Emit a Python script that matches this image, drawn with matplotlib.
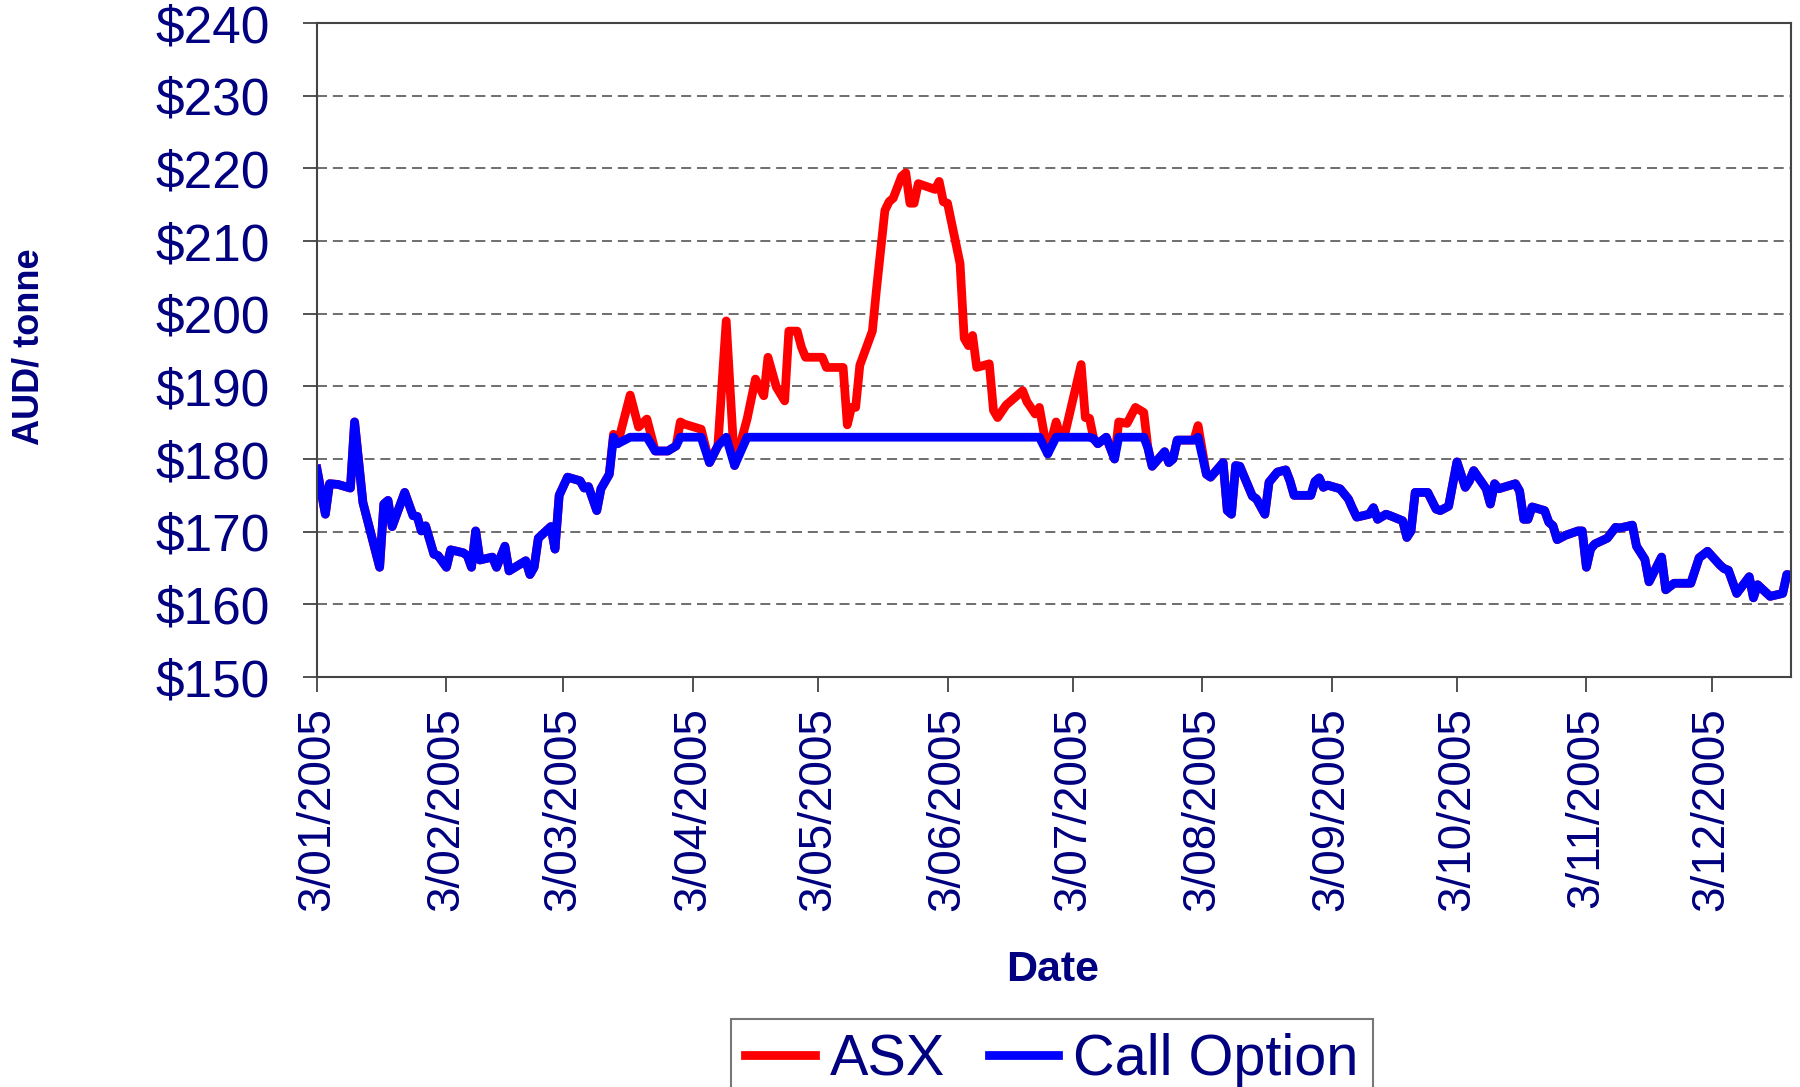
import numpy as np
import pandas as pd
import matplotlib
matplotlib.use("Agg")
import matplotlib.pyplot as plt
from matplotlib.ticker import FuncFormatter


start = pd.Timestamp("2005-01-03")
end = pd.Timestamp("2005-12-22")

# days since 3 Jan 2005
day_offset = [
    0, 2, 3, 5, 8, 9, 11, 15, 16, 17, 18, 21, 23, 24, 25, 26, 28, 29, 31, 32,
    35, 36, 37, 38, 39, 42, 43, 45, 46, 50, 51, 52, 53, 56, 57, 58, 60, 63, 64, 65,
    67, 68, 70, 71, 72, 75, 77, 79, 81, 84, 86, 87, 88, 92, 94, 96, 98, 100, 103, 105,
    107, 108, 110, 112, 113, 115, 116, 117, 121, 122, 126, 127, 128, 129, 130, 133, 134, 136, 137, 138,
    140, 141, 142, 143, 144, 148, 149, 150, 151, 154, 155, 156, 157, 158, 161, 162, 163, 165, 169, 170,
    172, 173, 175, 177, 178, 179, 183, 184, 185, 186, 187, 189, 191, 192, 194, 196, 198, 199, 200, 203,
    204, 205, 206, 210, 211, 213, 214, 217, 218, 219, 220, 221, 224, 225, 227, 228, 230, 232, 233, 234,
    238, 239, 240, 241, 242, 245, 247, 248, 249, 252, 253, 254, 256, 257, 260, 261, 262, 263, 266, 268,
    269, 271, 273, 275, 276, 277, 280, 281, 282, 283, 287, 288, 289, 290, 291, 294, 295, 296, 297, 299,
    302, 303, 304, 305, 306, 309, 311, 312, 315, 316, 318, 319, 322, 323, 325, 329, 331, 333, 336, 337,
    338, 340, 343, 344, 345, 348, 351, 352, 353,
]

# ASX price, AUD/tonne
asx = [
    178.6, 172.4, 176.6, 176.5, 176.0, 185.1, 174.0, 165.1, 173.8, 174.3, 170.7, 175.4, 172.2, 172.1, 170.1, 170.8, 166.9, 166.7, 165.1, 167.5,
    167.1, 166.7, 165.1, 170.1, 166.1, 166.5, 165.1, 168.0, 164.6, 166.0, 164.1, 165.1, 169.1, 170.7, 167.6, 175.0, 177.5, 177.0, 176.0, 176.2,
    172.9, 175.9, 177.9, 183.4, 182.1, 188.8, 184.4, 185.5, 181.1, 181.1, 181.8, 185.1, 184.8, 184.1, 179.5, 181.8, 199.0, 179.1, 185.5, 191.0,
    188.7, 194.0, 189.9, 188.0, 197.6, 197.6, 195.4, 194.0, 194.0, 192.6, 192.6, 184.7, 187.1, 187.1, 192.9, 197.6, 203.4, 214.2, 215.4, 215.9,
    218.9, 219.4, 215.2, 215.2, 217.9, 217.1, 218.2, 215.4, 215.2, 206.9, 196.6, 195.6, 197.0, 192.6, 193.1, 186.7, 185.7, 187.4, 189.4, 187.9,
    186.2, 187.1, 180.7, 185.1, 183.2, 183.2, 193.0, 185.7, 185.6, 182.8, 182.1, 183.0, 180.0, 185.1, 184.9, 187.1, 186.4, 181.5, 179.0, 181.0,
    179.5, 180.0, 182.6, 182.6, 184.6, 177.9, 177.5, 179.5, 172.9, 172.4, 179.1, 179.0, 174.9, 174.5, 172.4, 176.8, 178.2, 178.5, 177.0, 175.0,
    175.0, 176.9, 177.4, 176.1, 176.4, 175.9, 174.5, 173.2, 172.0, 172.4, 173.3, 171.7, 172.4, 172.2, 171.5, 169.2, 170.1, 175.4, 175.4, 173.1,
    172.9, 173.5, 179.6, 176.1, 177.0, 178.4, 175.9, 173.8, 176.6, 175.9, 176.6, 175.6, 171.7, 171.7, 173.4, 172.9, 171.3, 170.8, 168.9, 169.5,
    170.1, 170.1, 165.1, 167.6, 168.3, 169.1, 170.6, 170.5, 170.9, 168.0, 166.2, 163.1, 166.5, 162.0, 162.9, 162.9, 166.4, 167.3, 165.4, 164.9,
    164.7, 161.5, 163.8, 160.9, 162.7, 161.1, 161.5, 164.1, 164.0,
]

# the call option caps the price at this level once it is in place
cap = 183.0
cap_from = pd.Timestamp("2005-03-14")

dates = start + pd.to_timedelta(day_offset, unit="D")
asx = np.array(asx)
call_option = np.where(dates >= cap_from, np.minimum(asx, cap), asx)

navy = "#000080"
plt.rcParams["font.family"] = ["Liberation Sans", "DejaVu Sans"]

fig = plt.figure(figsize=(18, 10.87), dpi=100)
ax = fig.add_axes([317 / 1800, 410 / 1087, 1474 / 1800, 654 / 1087])

ax.plot(dates, asx, color="#ff0000", lw=6.3, label="ASX")
ax.plot(dates, call_option, color="#0000ff", lw=6.3, label="Call Option")

ax.set_ylim(150, 240)
ax.set_yticks(range(150, 241, 10))
ax.yaxis.set_major_formatter(FuncFormatter(lambda v, p: f"${v:.0f}"))

ax.set_xlim(start, end)
tick_dates = [pd.Timestamp(2005, m, 3) for m in range(1, 13)]
ax.set_xticks(tick_dates)
ax.set_xticklabels([f"{d.day}/{d.month:02d}/{d.year}" for d in tick_dates], rotation=90)

ax.yaxis.grid(True, color="#555555", lw=1.2, ls=(0, (6, 3.5)))
ax.set_axisbelow(True)

ax.tick_params(axis="y", labelsize=37, labelcolor=navy, length=10, width=1.2,
               pad=24, color="#333333")
ax.tick_params(axis="x", labelsize=33, labelcolor=navy, length=11, width=1.2,
               pad=11, color="#333333")
for s in ax.spines.values():
    s.set_color("#444444")
    s.set_linewidth(1.5)

fig.text(29 / 1800, 1 - 347 / 1087, "AUD/ tonne", rotation=90, ha="center", va="center",
         fontsize=26, fontweight="bold", color=navy)
fig.text(1053 / 1800, 1 - 970 / 1087, "Date", ha="center", va="center",
         fontsize=31, fontweight="bold", color=navy)

leg = fig.legend(loc="upper left", bbox_to_anchor=(731 / 1800, 1 - 1019 / 1087),
                 ncol=2, fontsize=41.5, labelcolor=navy, frameon=True, fancybox=False,
                 edgecolor="#555555", handlelength=1.2, handletextpad=0.27,
                 columnspacing=0.75, borderpad=0.25, borderaxespad=0)
leg.get_frame().set_linewidth(1.5)

fig.savefig("out.png", dpi=100)
